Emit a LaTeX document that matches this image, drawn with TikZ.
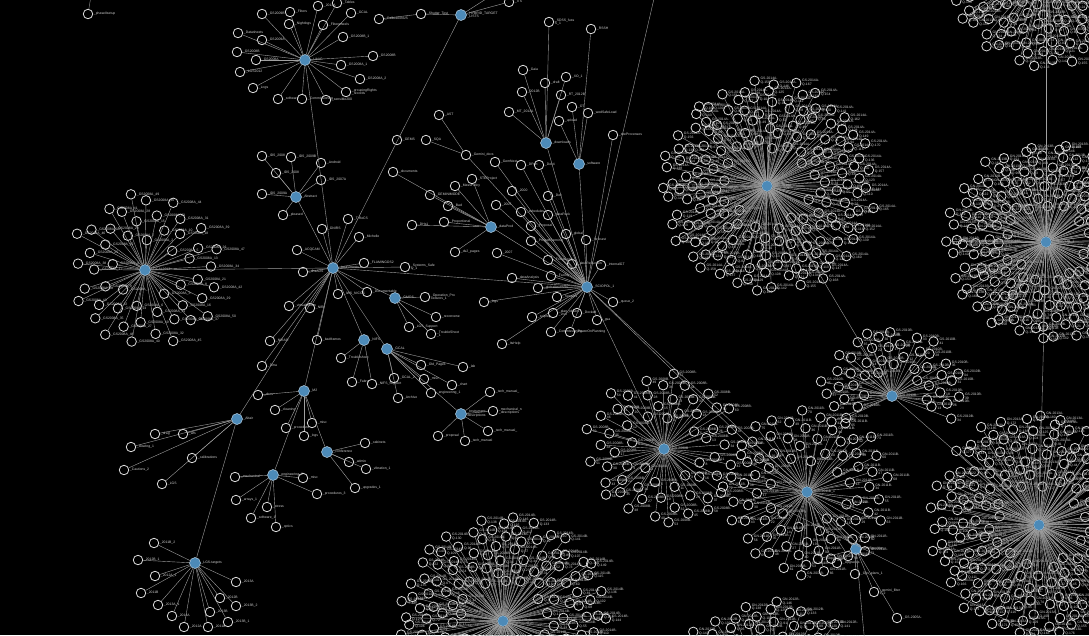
\documentclass[tikz,border=0pt]{standalone}
\usepackage{fontspec}
\setmainfont{Liberation Sans}
\definecolor{hubc}{RGB}{76,138,184}
\definecolor{edgec}{RGB}{160,160,160}
\definecolor{leafc}{RGB}{220,220,220}
\tikzset{
 leaf/.style={circle,draw=leafc,line width=0.8pt,minimum size=9.5pt,inner sep=0pt},
 hub/.style={circle,fill=hubc,draw=white!60!hubc,line width=0.5pt,minimum size=11pt,inner sep=0pt},
 edge/.style={draw=edgec,line width=0.4pt},
 lbl/.style={font=\fontsize{3.4}{3.7}\selectfont,text=white!82!black,inner sep=0.6pt,align=left},
}
\newcommand\hubleaves[2]{\foreach \px/\py/\lab [count=\k] in {#2}{%
 \node[leaf,label={[lbl]0:\lab}] (#1-\k) at (\px,\py) {};
 \draw[edge] (#1) -- (#1-\k);}}
\newcommand\cluster[6]{\foreach \i in {1,...,#2}{%
 \pgfmathsetmacro\crad{#3*sqrt(0.12+0.88*\i/#2)+2.5*rand}%
 \pgfmathsetmacro\cang{#4+#5*mod(\i*0.381966,1)+3*rand}%
 \node[leaf,label={[lbl]0:#6}] (#1-\i) at ([shift={(\cang:\crad)}]#1) {};
 \draw[edge] (#1) -- (#1-\i);}}
\begin{document}
\begin{tikzpicture}[x=1pt,y=-1pt]
\fill[black] (0,0) rectangle (1089,635);
\useasboundingbox (0,0) rectangle (1089,635);
\clip (0,0) rectangle (1089,635);
\pgfmathsetseed{12}
% hubs
\node[hub,label={[lbl]0:\_LibAG}] (A) at (305,60) {};
\node[hub,label={[lbl]0:\_HYBRID\_TARGET\\\_LISTS}] (B) at (461,15) {};
\node[hub,label={[lbl]0:\_GCAL2012}] (C) at (145,270) {};
\node[hub,label={[lbl]0:\_Abstract}] (D) at (296,197) {};
\node[hub,label={[lbl]0:\_instruments}] (E) at (333,268) {};
\node[hub,label={[lbl]0:\_GMOS}] (F) at (395,298) {};
\node[hub,label={[lbl]0:\_NIFS}] (G) at (364,340) {};
\node[hub,label={[lbl]0:\_GCAL}] (H) at (387,349) {};
\node[hub,label={[lbl]0:\_M2}] (I) at (304,391) {};
\node[hub,label={[lbl]0:\_Altair}] (J) at (237,419) {};
\node[hub,label={[lbl]0:\_engineering\_2}] (K) at (273,475) {};
\node[hub,label={[lbl]0:\_conference}] (L) at (327,452) {};
\node[hub,label={[lbl]0:\_LGS-targets}] (M) at (195,563) {};
\node[hub,label={[lbl]0:\_dataProd}] (N) at (491,227) {};
\node[hub,label={[lbl]0:\_downloads}] (O) at (546,143) {};
\node[hub,label={[lbl]0:\_software}] (P) at (579,164) {};
\node[hub,label={[lbl]0:\_SCIOPOL\_1}] (Q) at (587,287) {};
\node[hub,label={[lbl]0:\_Instrument\\descriptions}] (R) at (461,414) {};
\node[hub,label={[lbl]0:\_GS-2014A\_1}] (S) at (767,186) {};
\node[hub,label={[lbl]0:\_GN-2013B\_1}] (T) at (1046,242) {};
\node[hub] (U) at (1046,-35) {};
\node[hub,label={[lbl]0:\_GS-2010B-}] (V) at (892,396) {};
\node[hub,label={[lbl]0:\_GS-2008B}] (W) at (664,449) {};
\node[hub,label={[lbl]0:\_GN-2011B\_1}] (X) at (807,492) {};
\node[hub,label={[lbl]0:\_GNSposition}] (Y) at (856,549) {};
\node[hub,label={[lbl]0:\_GN-2013A\_1}] (Z) at (1039,525) {};
\node[hub,label={[lbl]0:\_GS-2014B\_1}] (AA) at (503,621) {};
\node[hub] (AB) at (770,705) {};
% big clusters
\cluster{S}{170}{108}{0}{360}{GS-2014A-\\Q-\i}
\cluster{T}{170}{100}{0}{360}{GN-2013B-\\Q-\i}
\cluster{U}{170}{102}{0}{360}{GN-2013B-\\Q-\i}
\cluster{Z}{185}{112}{0}{360}{GN-2013A-\\Q-\i}
\cluster{AA}{150}{106}{0}{360}{GS-2014B-\\Q-\i}
\cluster{AB}{150}{106}{0}{360}{GN-2012B-\\Q-\i}
\cluster{W}{60}{78}{0}{360}{GS-2008B-\\\i}
\cluster{X}{75}{85}{0}{360}{GN-2011B-\\\i}
\cluster{V}{45}{70}{150}{235}{GS-2010B-\\\i}
\cluster{C}{50}{78}{0}{360}{\_GS2008A\_\i}
% small hubs
\hubleaves{A}{262/14/\_GS2009B, 290/12/\_Filters, 318/6/\_2012A, 337/3/\_Tables, 351/13/\_GCAL, 343/37/\_GS2008B\_1, 373/56/\_GS2008B, 341/65/\_GS2008A\_1, 360/79/\_GS2008A\_2, 346/92/\_groupingRights\\\_records, 326/100/\_sensible200, 302/99/\_Commissioning, 278/99/\_software, 253/88/\_Logs, 240/72/\_LGS2012, 256/60/\_GS2008A, 237/52/\_GS2008B, 262/40/\_GS2009A, 238/33/\_Datasheets, 289/24/\_Nightlogs, 323/25/\_Filterwheels}
\hubleaves{D}{262/156/\_IDS\_2008, 291/157/\_IDS\_2009B, 321/163/\_Android, 276/173/\_IDS\_2008, 321/180/\_IDS\_2007A, 262/194/\_IDS\_2009A, 283/215/\_pleased}
\hubleaves{E}{348/219/\_T-ReCS, 322/229/\_GNIRS, 359/237/\_Michelle, 297/250/\_ACQCAM, 303/272/\_dhsADS, 364/263/\_FLAMINGOS2, 405/267/\_Systems\_Safe\\ty\_1, 338/294/\_IWS\_NICOS, 367/292/\_Documentable, 310/308/\_NIRI, 289/306/\_virtualization, 317/340/\_badframes, 270/341/\_NIRAO, 262/366/\_Dma}
\hubleaves{F}{425/297/\_Operation\_Pro\\cedures\_1, 436/317/\_reconvene, 409/327/\_LGS\_Support, 431/334/\_TroubleShoot\\\_1}
\hubleaves{G}{341/358/\_Troubleshoot, 352/382/\_Fabry, 372/384/\_NIFS\_Support}
\hubleaves{H}{421/365/\_Old\_Pages, 463/367/\_lab, 424/379/\_misc, 452/385/\_chart, 398/398/\_Archive, 431/393/\_engineering\_1, 394/378/\_GCAL\_2}
\hubleaves{R}{490/392/\_tech\_manual\_, 493/411/\_mechanical\_n\\\_descriptions, 488/431/\_tech\_manual\_, 438/436/\_proposal, 465/441/\_tech\_manual}
\hubleaves{I}{275/410/\_cleaning, 286/428/\_procedure, 312/423/\_misc, 304/436/\_logs, 258/395/\_docs}
\hubleaves{J}{155/434/\_drag, 131/447/\_slewing\_1, 124/470/\_Cautions\_2, 162/484/\_LGS, 192/458/\_calibrations, 183/434/\_wfs}
\hubleaves{K}{235/477/\_mechanical, 236/500/\_arrays\_1, 267/507/\_stress, 251/518/\_software\_1, 276/527/\_optics, 317/494/\_procedures\_3, 303/478/\_misc}
\hubleaves{L}{365/443/\_cabinets, 349/462/\_admin, 366/469/\_vibration\_1, 355/488/\_upgrades\_1}
\hubleaves{M}{154/543/\_2011B\_2, 138/560/\_2012B\_1, 155/576/\_2012A\_1, 141/593/\_2011B, 158/605/\_2013A\_1, 172/616/\_2014A, 184/627/\_2012A, 208/627/\_2011A, 210/612/\_2013B, 220/598/\_2012B, 236/582/\_2013A, 236/606/\_2013B\_2, 228/622/\_2013B\_1}
\hubleaves{N}{430/195/\_GEMINIMODE, 448/206/\_Bad, 472/179/\_STEProject, 455/186/\_MassPolicy, 444/222/\_Proportional, 393/172/\_documents, 412/225/\_DHs1, 455/252/\_ds2\_pages}
\hubleaves{O}{509/112/\_MT\_2012A, 522/92/\_2012B, 545/83/\_draft, 523/70/\_Gaia, 566/77/\_XO\_1, 561/95/\_RT\_2012B, 549/22/\_SDSS\_fuss\\S\_1}
\hubleaves{P}{559/121/\_upload, 572/107/\_OT, 588/113/\_wedSafeLoad, 591/29/\_RSSH}
\hubleaves{Q}{512/278/\_dataAnalysis, 484/302/\_logs, 502/344/\_ItsHelp, 551/276/\_Facility, 538/288/\_globalArchives, 557/297/\_Sensors, 601/265/\_internalGT, 613/302/\_queue\_2, 597/320/\_gsa, 532/317/\_sciprep, 553/313/\_plan\_observ\\\_visit, 577/313/\_Docked, 551/332/\_Commissioning, 570/332/\_PowerOnPlanning, 548/260/\_FocusLoop, 572/264/\_dataReduction, 497/253/\_2007, 495/162/\_GemNext, 521/165/\_DPort, 539/165/\_Dev4, 512/191/\_2000, 496/205/\_2005, 521/212/\_schedules, 531/226/\_Proposal, 531/241/\_ProjectPlanning, 548/215/\_dataPack, 548/196/\_Dev, 566/234/\_global, 586/240/\_forecast, 613/135/\_siteProcesses}
\hubleaves{Y}{818/559/\_Requirements, 837/563/\_Upgrades, 855/574/\_Ops\_plans\_1, 874/592/\_gemini\_filter\\s\_2, 897/618/\_GS-2005A-}
% extra nodes
\node[leaf,label={[lbl]0:\_Shutter\_Test}] (B1) at (421,14) {};
\node[leaf,label={[lbl]0:\_CalibrationUS}] (B2) at (379,19) {};
\node[leaf,label={[lbl]0:\_ITS}] (B3) at (509,2) {};
\node[leaf,label={[lbl]0:\_Gemini\_docs}] (Gm) at (466,155) {};
\node[leaf,label={[lbl]0:\_AST}] (Gm1) at (439,115) {};
\node[leaf,label={[lbl]0:\_SQA}] (Gm2) at (426,140) {};
\node[leaf,label={[lbl]0:\_GEMS}] (Gs) at (397,140) {};
\node[leaf,label={[lbl]0:\_phaseIIsetup}] (ph) at (88,14) {};
\coordinate (offA) at (92,-10);
\coordinate (offB) at (500,-10);
\coordinate (offQ) at (656,-10);
\coordinate (offW) at (1100,667);
\coordinate (offY) at (865,645);
% connectors between hubs
\draw[edge] (B) -- (B1) -- (B2);
\draw[edge] (B) -- (B3);
\draw[edge] (Gm) -- (Gm1);
\draw[edge] (Gm) -- (Gm2);
\draw[edge] (Gm) -- (Q);
\draw[edge] (ph) -- (offA);
\draw[edge] (B) -- (offB);
\draw[edge] (Q) -- (offQ);
\draw[edge] (W) -- (offW);
\draw[edge] (Y) -- (offY);
\foreach \a/\b in {A/E, B/E, C/E, D/E, E/F, E/G, E/H, E/I, E/J, H/R, I/K, I/L, J/M, E/Q, N/Q, O/Q, P/Q, Q/W, Q/X, Q/Y, X/Y, S/V, V/Z, T/U, T/Z}
 \draw[edge] (\a) -- (\b);
\end{tikzpicture}
\end{document}
